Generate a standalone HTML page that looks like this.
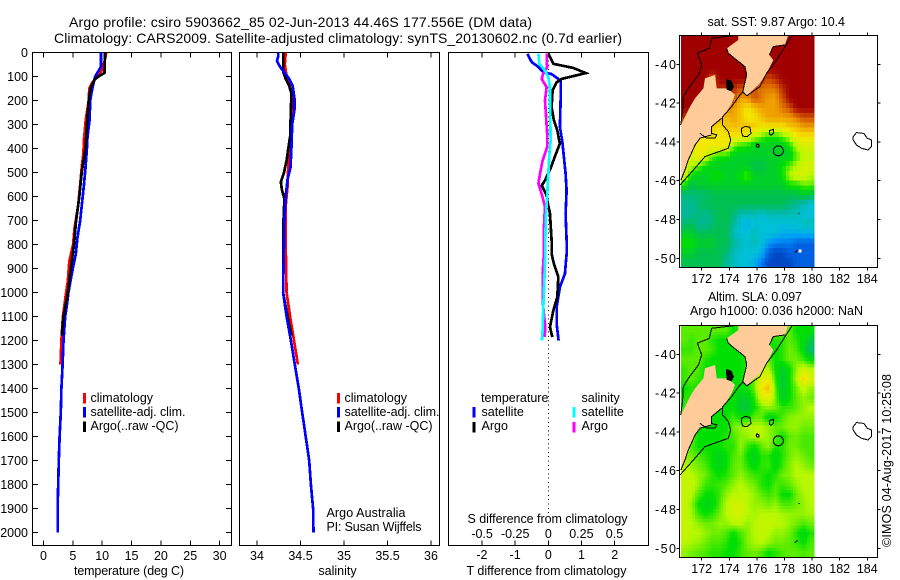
<!DOCTYPE html>
<html>
<head>
<meta charset="utf-8">
<title>Argo profile chart</title>
<style>
html,body{margin:0;padding:0;background:#fff;}
#chart{display:block;}
text{font-family:"Liberation Sans",sans-serif;font-size:12.5px;fill:#000;}
</style>
</head>
<body>
<svg id="chart" width="900" height="580" viewBox="0 0 900 580" xmlns="http://www.w3.org/2000/svg"></svg>
<script>
// ---------- Profile data ----------
const tempDepthTicks = [0,100,200,300,400,500,600,700,800,900,1000,1100,1200,1300,1400,1500,1600,1700,1800,1900,2000];
const tempTicks = [0,5,10,15,20,25,30];
const salTicks = [34,34.5,35,35.5,36];
const salTickLabels = ['34','34.5','35','35.5','36'];
const diffTTicks = [-2,-1,0,1,2];
const diffSTicks = [-0.5,-0.25,0,0.25,0.5];
const diffSTickLabels = ['-0.5','-0.25','0','0.25','0.5'];

const tempClimDepth = [0,60,85,110,130,150,200,280,360,420,480,550,640,730,800,870,950,1000,1100,1200,1300];
const tempClimValue = [10.7,10.2,9.7,8.8,8.2,7.8,7.7,7.2,6.9,6.8,6.5,6.25,5.9,5.3,5.05,4.4,4.15,3.85,3.3,3.05,2.9];
const tempSatDepth = [0,60,75,100,130,165,200,280,350,400,480,550,620,700,770,840,900,1000,1050,1100,1200,1300,1400,1500,1600,1700,1800,1900,2000];
const tempSatValue = [9.8,9.8,9.4,8.8,8.5,8.2,7.95,7.85,7.5,7.4,7.15,6.9,6.6,6.25,5.8,5.5,5,4.25,4,3.7,3.4,3.25,3.05,2.95,2.75,2.6,2.5,2.4,2.4];
const tempArgoDepth = [0,85,95,110,130,150,200,300,400,500,600,700,800,900,1000,1100,1180];
const tempArgoValue = [10.5,10.4,9.7,8.8,8.35,8,7.7,7.4,7.15,6.5,6.1,5.55,5.2,4.65,4.15,3.4,3.1];

const salClimDepth = [0,50,100,150,200,300,400,470,560,640,800,1000,1100,1200,1300];
const salClimValue = [34.33,34.32,34.34,34.385,34.415,34.4,34.385,34.36,34.35,34.33,34.33,34.34,34.38,34.425,34.47];
const salSatDepth = [0,15,35,60,85,110,140,190,240,300,400,480,530,600,700,800,900,1000,1100,1200,1300,1400,1500,1600,1700,1800,1900,2000];
const salSatValue = [34.245,34.245,34.23,34.265,34.32,34.37,34.41,34.43,34.43,34.405,34.395,34.385,34.35,34.33,34.315,34.31,34.305,34.3,34.34,34.39,34.435,34.48,34.52,34.56,34.6,34.62,34.645,34.65];
const salArgoDepth = [0,80,110,140,170,240,350,400,450,500,540,570,610,700,800,1000,1100,1180];
const salArgoValue = [34.3,34.3,34.33,34.37,34.395,34.39,34.38,34.36,34.34,34.31,34.275,34.285,34.315,34.305,34.3,34.3,34.35,34.395];

const diffTSatDepth = [5,40,60,82,90,117,200,310,367,436,505,575,672,783,839,922,978,1061,1130,1200];
const diffTSatValue = [-0.63,-0.5,-0.3,-0.15,0.1,0.37,0.37,0.35,0.42,0.47,0.52,0.55,0.52,0.55,0.55,0.5,0.35,0.25,0.25,0.31];
const diffTArgoDepth = [5,47,64,86,110,124,158,228,283,325,380,422,478,533,554,589,672,783,839,880,936,1019,1075,1144,1186];
const diffTArgoValue = [0,0.15,0.75,1.13,0.4,0.25,0.13,0.1,0.17,0.27,0.35,0.23,0.08,-0.1,-0.2,-0.07,0.05,0.1,0.1,0.17,0.3,0.27,0.15,0.05,0.12];
const diffSArgoDepth = [5,33,61,88,110,144,200,255,339,394,450,505,547,589,644,728,839,922,1033,1144,1186];
const diffSArgoValue = [-0.013,-0.013,-0.008,-0.038,-0.05,-0.013,-0.025,-0.018,-0.008,-0.008,-0.043,-0.063,-0.075,-0.05,-0.025,-0.033,-0.033,-0.043,-0.043,-0.023,-0.028];
const diffSSatDepth = [5,47,75,103,144,228,367,422,505,589,686,783,839,922,1061,1158,1200];
const diffSSatValue = [-0.075,-0.068,-0.025,0,0.013,0.013,0.018,0.008,0,-0.008,-0.018,-0.023,-0.023,-0.028,-0.038,-0.043,-0.048];

// ---------- Map data (index on the colour scale, 0 blue .. 11 dark red; 0.5 deg rows, north to south) ----------
const mapLonTicks = [172,174,176,178,180,182,184];
const mapLatTicks = [-40,-42,-44,-46,-48,-50];
const sstGrid = [
[11,11,11,11,11,11,11,11,11,11,11,11,11,11,11,11,11,11,11],
[11,11,11,11,11,11,11,11,11,11,11,11,11,11,11,11,11,11,11],
[11,11,11,11,11,11,11,11,11,11,11,11,11,11,11,11,11,11,11],
[11,11,11,11,11,11,11,11,11,11,11,11,11,11,11,11,11,11,11],
[11,11,11,11,10,11,11,11,11,11,11,10.5,10,10.5,11,11,11,11,11],
[11,11,11,11,11,10.5,10.5,10.5,10,10,10,9.5,9.5,9.5,10.5,11,11,11,11],
[11,11,11,11,11,11,11,10,9,9,10,9.5,9,9,10,11,11,11,11],
[11,11,11,11,11,11,9.5,9,8.5,8,8.5,9,9,9,9.5,10,11,11,11],
[10.5,10,9,9,9,9,8.5,9,8.5,8,8,8.5,9,9,9,9,9.5,10,10],
[9,9,9,8.5,8.5,8,8.5,8.5,8.5,8.5,8.5,8,8,8,8,8.5,8.5,9,9],
[8.5,8.5,8,8,8,8,8,8,8,7.5,7,6.5,6,6,6.5,7,8,8,8],
[8,7.5,8,8,8,8,8,6.5,6,6,5.5,5.5,5.5,5.5,5.5,6,7,7.5,7.5],
[8,7.5,8,7.5,6.5,6,6,5.5,5.5,5.5,5.5,5.5,5.5,5.5,5.5,5.5,6.5,7,7],
[7.5,7,6.5,6,5.5,5.5,5.5,5.5,5.5,5.5,5,5,5.5,5.5,6,6.5,7,7.5,7.5],
[7.5,6,5.5,5.5,6,6,5.5,5.5,6,6.5,5.5,5.5,5.5,5.5,6,7,7.5,7.5,7],
[6,5,5.5,5.5,5.5,5.5,5.5,5.5,5.5,5.5,5.5,5.5,5.5,5.5,5.5,6,6,6.5,6.5],
[4.5,4.5,4.5,4.5,5,5,5,5,5,5,5,5,5,5,5,5,5,5.5,5],
[4,4,4.5,5,5,5,5,5,5,5,5,5,5,5,5,4.5,4,3.5,3],
[4,4,4.5,4,4.5,5,5,4.5,3.5,3.5,3.5,3,3.5,3.5,3.5,3.5,3.5,3,3],
[4.5,5,4,4,4.5,5,5,4,3,2.5,3,3,3,3,3,3,3,3.5,3.5],
[5.5,5.5,5,5,5,5,5,3.5,3,3,3.5,3,3,3,2.5,2.5,2.5,2.5,2.5],
[6,6,5.5,5.5,5.5,5,5,4,3.5,3,3.5,3,2,1.5,1.5,1.5,1,1,1],
[5.5,5.5,5,5,5,5,4.5,3.5,3,3,3,2.5,1,0.5,0.5,1,1,1,1],
[5,5,5,5,5,5,4,3.5,3,3,2.5,1.5,0.5,0.5,0.5,0.5,1,1,1]
];
const slaGrid = [
[6.5,6.5,6.5,6.5,6.5,6.5,6.5,6,6.2,6.5,6.5,6.5,6.5,6.5,6.5,6.5,6,6,6],
[6.5,6.3,6.5,6.5,6.2,6,6,6,6,6,6,6,6,6.2,6.2,6.5,6.2,5.8,5.2],
[6.3,6.3,6.5,6.5,6.3,6,6,6,6,6,6.2,6.3,6.2,6,6.2,6.6,6.4,5.8,4.6],
[6.5,6.5,6.5,6.2,6,6,6,6,6,6.2,6.3,6.5,6.5,6,6.2,6.6,6.6,6.3,5.8],
[6.3,6.5,6.4,6,6,6,6,6,6,6.2,6.5,7,7,6,5.5,6,6.8,7.3,7],
[6.3,6.5,6.3,6,6,6,6,6,6,6.2,6.6,7.6,7.8,6.2,5.3,6,7,8.2,7.5],
[6,6.2,6,6,6,6,6,6,6,6,6.6,8,8.5,6.5,5.3,6,6.6,7.2,6.8],
[6.2,6.2,6,6,6,6,6,6,5.5,5.5,6.2,7.4,7.8,6.6,5.5,6,6.5,6.8,6.6],
[6.2,6.2,6,6,6,6,6,6,5.4,5.3,6,6.6,6.8,6.6,6.2,6.3,6.5,6.8,7],
[6.5,6.3,6,6,6,6,6,6.3,6,6,6.5,6.5,5.8,6,6.4,6.7,6.8,6.8,6.8],
[6.5,6.5,6,6,6,6,6,6.6,6.8,7,7,7,6.8,6.5,6.6,6.8,6.8,6.6,6.6],
[6.6,6.6,6,6,6,6,6.2,6.4,6.7,6.8,7,7,6.8,6.5,6,6.5,6.6,6.4,6.4],
[6.6,6.4,6,6,6,6,6.2,6.2,6.8,6.3,6,6.5,6.8,6.2,6.2,6.6,6.6,6.4,6.4],
[6.8,6.6,6.4,6.2,6,5.6,6,6.4,6.6,6,5.6,6.2,6.2,5.7,6.2,6.6,6.8,6.6,6.4],
[7,6.8,6.6,6.4,6,5.7,6,6.5,6.6,6.2,5.8,6.2,6.3,5.8,6.3,6.7,7,6.8,6.6],
[7.2,7,6.8,6.6,6.2,6,6.2,6.5,6.8,6.5,6.3,6.2,6,6.2,6.6,6.7,7,7,7],
[7.2,7.2,6.8,6.3,6.2,6.3,6.5,6.8,7,6.8,6.6,6.2,6,6.4,6.3,6.5,6.8,7,7],
[7.2,7,6.4,6,6,6.3,6.8,7,7,7,6.8,6.5,6.3,6.5,6,6,6.6,6.9,7],
[7.2,6.8,6,5.7,5.8,6.4,7,7.4,7.4,7,6.8,6.8,6.6,6.8,6.4,6.4,6.6,6.8,7],
[7.2,6.9,6.3,6,6.2,6.6,7,7.4,7.4,7,6.9,7,7,7,6.9,6.8,6.8,6.8,6.9],
[7.2,7,6.8,6.6,6.6,6.8,6.8,7,7,6.8,7,7.2,7.2,7,7,6.8,6.6,6.4,6.6],
[7.2,7,7,6.8,6.6,6.6,6.4,6,6.4,6.7,7,7.2,7,6.8,6.8,6.6,6.2,5.7,6.2],
[7,6.9,6.8,6.6,6.4,6.4,6.2,5.8,6.2,6.7,6.9,7,6.8,6.6,6.6,6.5,6.3,6,6.4],
[6.8,6.6,6.5,6.4,6.2,6.2,6,6,6.3,6.5,6.6,6.4,6,6.2,6.4,6.5,6.5,6.4,6.5]
];
const colourStops = ['#0030a8','#0060e0','#0098f8','#00c0d8','#00b898','#00c050','#00e000','#b8f800','#f4e800','#f0a000','#d05000','#a00000'];
const argoLon = 177.556;
const argoLat = -44.46;

// Coastlines as [lon, lat]
const northIslandLand = [[174.65,-38.5],[178.27,-38.5],[178.03,-39],[177.19,-39.09],[176.9,-39.52],[177.19,-39.78],[176.83,-40.29],[176.22,-40.98],[175.26,-41.63],[174.97,-41.41],[175.26,-40.55],[175.14,-40.12],[174.53,-39.78],[173.93,-39.43],[173.81,-39.18],[174.65,-38.75]];
const southIslandLand = [[170.5,-43.13],[171.16,-42.18],[171.52,-41.75],[172.12,-41.24],[172.24,-40.72],[172.97,-40.55],[173.09,-41.24],[173.93,-41.24],[174.41,-41.58],[174.17,-42.01],[173.57,-42.7],[172.72,-43.21],[172.72,-43.64],[171.88,-43.81],[171.52,-44.16],[171.03,-44.93],[170.79,-45.45],[170.5,-45.96]];
const coastLines = [
[[170.48,-43.13],[170.62,-42.35],[170.67,-41.67],[171.03,-41.24],[171.76,-40.55],[172,-40.03],[171.69,-39.43],[172.55,-39.18],[172.72,-38.66],[174.65,-38.5]],
[[178.59,-38.5],[177.96,-39.18],[177.43,-39.78],[176.7,-40.46],[176.22,-41.15],[175.26,-41.63]],
[[173.81,-39.18],[173.93,-39.43],[174.53,-39.78],[175.14,-40.12],[175.26,-40.55],[174.97,-41.41],[175.26,-41.63]],
[[176.9,-39.52],[177.19,-39.09],[178.03,-39]],
[[170.43,-46.22],[171.4,-45.45],[172.24,-44.76],[173.93,-44.33],[174.1,-43.9],[173.93,-43.47],[173.52,-43.13],[173.52,-42.7],[174.17,-42.18],[174.77,-41.58],[175.02,-41.41]],
[[171.88,-43.56],[172.36,-43.81],[172.97,-43.81],[173.09,-43.64],[172.72,-43.56],[172.72,-43.21],[173.45,-42.78]],
[[172.72,-43.64],[171.88,-43.81],[171.52,-44.16],[171.03,-44.93],[170.79,-45.45],[170.5,-45.96]],
[[179.02,-47.68],[179.1,-47.7]],
[[178.75,-49.7],[178.95,-49.6]]
];
const islands = [
[[182.98,-43.73],[183.22,-43.52],[183.75,-43.56],[183.99,-43.81],[184.3,-43.9],[184.3,-44.24],[184.06,-44.42],[183.58,-44.33],[183.22,-44.16],[182.98,-43.9]],
[[174.9,-43.3],[175.14,-43.2],[175.5,-43.25],[175.57,-43.56],[175.3,-43.73],[174.97,-43.7],[174.87,-43.47]],
[[176.92,-43.42],[177.21,-43.35],[177.19,-43.56],[177.02,-43.66],[176.9,-43.59]],
[[176,-44.1],[176.15,-44.15],[176.15,-44.25],[176,-44.27],[175.95,-44.18]]
];
const harbourBlob = [[173.75,-40.75],[174.15,-40.85],[174.35,-41.15],[174.15,-41.4],[173.8,-41.3]];
const missingPixel = [179,-49.55];

// ---------- Helpers ----------
const svg = document.getElementById('chart');
const NS = 'http://www.w3.org/2000/svg';
function mk(tag, attrs, name, parent) {
  const el = document.createElementNS(NS, tag);
  for (const k in attrs) el.setAttribute(k, attrs[k]);
  
  
  (parent || svg).appendChild(el);
  return el;
}
function txt(x, y, s, name, anchor, len) {
  const a = {x: x, y: y};
  if (anchor) a['text-anchor'] = anchor;
  if (len) { a.textLength = len; a.lengthAdjust = 'spacing'; }
  const t = mk('text', a, name);
  t.textContent = s;
  return t;
}
function tick(x1, y1, x2, y2, name) {
  mk('line', {x1: x1, y1: y1, x2: x2, y2: y2, stroke: '#000', 'stroke-width': 1, 'shape-rendering': 'crispEdges'}, name);
}
function frame(x, y, w, h, name) {
  mk('rect', {x: x, y: y, width: w, height: h, fill: 'none', stroke: '#000', 'stroke-width': 1, 'shape-rendering': 'crispEdges'}, name);
}

// Axis functions
const PLOT_TOP = 52.5, PLOT_BOTTOM = 545.5;
const yDepth = d => 52.5 + 0.24 * d;
const xTemp = t => 43.5 + 5.87 * t;
const xSal = s => 257 + 87 * (s - 34);
const xDiffT = t => 548.3 + 33.2 * t;
const xDiffS = s => 548.3 + 132.4 * s;
const xLon = lon => 701.7 + 13.8 * (lon - 172);

function profile(depths, values, xFn, colour, name) {
  const pts = depths.map((d, i) => xFn(values[i]).toFixed(1) + ',' + yDepth(d).toFixed(1)).join(' ');
  mk('polyline', {points: pts, fill: 'none', stroke: colour, 'stroke-width': 2.7, 'shape-rendering': 'crispEdges'}, name);
}
function legendBar(x, y, colour, name) {
  mk('rect', {x: x, y: y, width: 3, height: 10.5, fill: colour, 'shape-rendering': 'crispEdges'}, name);
}

// ---------- Titles ----------
txt(69, 27, 'Argo profile: csiro 5903662_85 02-Jun-2013 44.46S 177.556E (DM data)', 'figure-title-line-1', null, 463).style.fontSize = '14px';
txt(54, 43, 'Climatology: CARS2009. Satellite-adjusted climatology: synTS_20130602.nc (0.7d earlier)', 'figure-title-line-2', null, 568).style.fontSize = '14px';

// ---------- Panel 1: temperature ----------
frame(32.5, PLOT_TOP, 199, 493, 'temperature-panel-frame');
tempDepthTicks.forEach(d => {
  tick(33, yDepth(d), 38, yDepth(d), 'depth-tick-left');
  tick(226, yDepth(d), 231, yDepth(d), 'depth-tick-right');
  txt(28, yDepth(d) + 4.5, String(d), 'depth-tick-label', 'end');
});
tempTicks.forEach(t => {
  tick(xTemp(t), PLOT_TOP, xTemp(t), PLOT_TOP + 5, 'temperature-tick-top');
  tick(xTemp(t), PLOT_BOTTOM, xTemp(t), PLOT_BOTTOM - 5, 'temperature-tick-bottom');
  txt(xTemp(t), 560, String(t), 'temperature-tick-label', 'middle');
});
txt(74, 575, 'temperature (deg C)', 'temperature-axis-title', null, 110);
profile(tempClimDepth, tempClimValue, xTemp, '#ff0000', 'temperature-climatology-line');
profile(tempSatDepth, tempSatValue, xTemp, '#0000ff', 'temperature-satellite-line');
profile(tempArgoDepth, tempArgoValue, xTemp, '#000000', 'temperature-argo-line');
legendBar(83, 393, '#ff0000', 'legend-climatology-swatch');
legendBar(83, 407, '#0000ff', 'legend-satellite-swatch');
legendBar(83, 421.5, '#000000', 'legend-argo-swatch');
txt(90.5, 402, 'climatology', 'legend-climatology-label');
txt(90.5, 416, 'satellite-adj. clim.', 'legend-satellite-label', null, 95);
txt(90.5, 430, 'Argo(..raw -QC)', 'legend-argo-label', null, 88);

// ---------- Panel 2: salinity ----------
frame(239.5, PLOT_TOP, 200, 493, 'salinity-panel-frame');
salTicks.forEach((s, i) => {
  tick(xSal(s), PLOT_TOP, xSal(s), PLOT_TOP + 5, 'salinity-tick-top');
  tick(xSal(s), PLOT_BOTTOM, xSal(s), PLOT_BOTTOM - 5, 'salinity-tick-bottom');
  txt(xSal(s), 560, salTickLabels[i], 'salinity-tick-label', 'middle');
});
txt(337.5, 575, 'salinity', 'salinity-axis-title', 'middle');
profile(salClimDepth, salClimValue, xSal, '#ff0000', 'salinity-climatology-line');
profile(salArgoDepth, salArgoValue, xSal, '#000000', 'salinity-argo-line');
profile(salSatDepth, salSatValue, xSal, '#0000ff', 'salinity-satellite-line');
legendBar(337, 393, '#ff0000', 'legend-climatology-swatch');
legendBar(337, 407, '#0000ff', 'legend-satellite-swatch');
legendBar(337, 421.5, '#000000', 'legend-argo-swatch');
txt(344.5, 402, 'climatology', 'legend-climatology-label');
txt(344.5, 416, 'satellite-adj. clim.', 'legend-satellite-label', null, 95);
txt(344.5, 430, 'Argo(..raw -QC)', 'legend-argo-label', null, 88);
txt(326.5, 517, 'Argo Australia', 'credit-argo-australia', null, 79);
txt(326.5, 531, 'PI: Susan Wijffels', 'credit-principal-investigator', null, 95);

// ---------- Panel 3: differences ----------
frame(448.5, PLOT_TOP, 200, 493, 'difference-panel-frame');
diffTTicks.forEach(t => {
  tick(xDiffT(t), PLOT_TOP, xDiffT(t), PLOT_TOP + 5, 'difference-tick-top');
  tick(xDiffT(t), PLOT_BOTTOM, xDiffT(t), PLOT_BOTTOM - 5, 'difference-tick-bottom');
  txt(xDiffT(t), 559, String(t), 'temperature-difference-tick-label', 'middle');
});
diffSTicks.forEach((s, i) => {
  txt(xDiffS(s), 538, diffSTickLabels[i], 'salinity-difference-tick-label', 'middle');
});
mk('line', {x1: xDiffT(0), y1: 52, x2: xDiffT(0), y2: 513, stroke: '#000', 'stroke-width': 1, 'stroke-dasharray': '1 3.3', 'shape-rendering': 'crispEdges'}, 'zero-difference-line');
profile(diffTSatDepth, diffTSatValue, xDiffT, '#0000ff', 'temperature-satellite-difference-line');
profile(diffTArgoDepth, diffTArgoValue, xDiffT, '#000000', 'temperature-argo-difference-line');
profile(diffSArgoDepth, diffSArgoValue, xDiffS, '#ff00ff', 'salinity-argo-difference-line');
profile(diffSSatDepth, diffSSatValue, xDiffS, '#00ffff', 'salinity-satellite-difference-line');
txt(481, 402, 'temperature', 'legend-temperature-heading');
txt(581.5, 402, 'salinity', 'legend-salinity-heading');
txt(481.5, 416, 'satellite', 'legend-temperature-satellite-label');
txt(481.5, 430, 'Argo', 'legend-temperature-argo-label');
txt(581.5, 416, 'satellite', 'legend-salinity-satellite-label');
txt(581.5, 430, 'Argo', 'legend-salinity-argo-label');
legendBar(472.5, 407, '#0000ff', 'legend-temperature-satellite-swatch');
legendBar(472.5, 422, '#000000', 'legend-temperature-argo-swatch');
legendBar(572.5, 407, '#00ffff', 'legend-salinity-satellite-swatch');
legendBar(572.5, 422, '#ff00ff', 'legend-salinity-argo-swatch');
txt(467.5, 523, 'S difference from climatology', 'salinity-difference-axis-title', null, 160);
txt(466.5, 575, 'T difference from climatology', 'temperature-difference-axis-title', null, 160);

// ---------- Maps ----------
function colourFor(v) {
  const c = Math.max(0, Math.min(11, v));
  const i = Math.min(10, Math.floor(c));
  const f = c - i;
  const a = parseInt(colourStops[i].slice(1), 16);
  const b = parseInt(colourStops[i + 1].slice(1), 16);
  const ch = s => Math.round(((a >> s) & 255) * (1 - f) + ((b >> s) & 255) * f);
  return 'rgb(' + ch(16) + ',' + ch(8) + ',' + ch(0) + ')';
}
function drawMap(grid, top, lat40y, bottom, prefix, sub) {
  const yLat = lat => lat40y + 19.4 * (-40 - lat);
  const path = pts => pts.map(p => xLon(p[0]).toFixed(1) + ',' + yLat(p[1]).toFixed(1)).join(' ');
  const g = mk('g', {'shape-rendering': 'crispEdges'}, prefix + '-heatmap');
  const rows = grid.length, cols = grid[0].length;
  const cellW = 7, cellH = (bottom - top) / rows;
  for (let j = 0; j < rows * sub; j++) {
    for (let i = 0; i < cols * sub; i++) {
      const u = (i + 0.5) / sub - 0.5, w = (j + 0.5) / sub - 0.5;
      const i0 = Math.max(0, Math.floor(u)), j0 = Math.max(0, Math.floor(w));
      const i1 = Math.min(cols - 1, i0 + 1), j1 = Math.min(rows - 1, j0 + 1);
      const fu = Math.max(0, u - i0), fw = Math.max(0, w - j0);
      const v = (grid[j0][i0] * (1 - fu) + grid[j0][i1] * fu) * (1 - fw) + (grid[j1][i0] * (1 - fu) + grid[j1][i1] * fu) * fw;
      const cell = document.createElementNS(NS, 'rect');
      cell.setAttribute('x', (681 + i * cellW / sub).toFixed(2));
      cell.setAttribute('y', (top + j * cellH / sub).toFixed(2));
      cell.setAttribute('width', (cellW / sub + 0.4).toFixed(2));
      cell.setAttribute('height', (cellH / sub + 0.4).toFixed(2));
      cell.setAttribute('fill', colourFor(v));
      
      
      g.appendChild(cell);
    }
  }
  mk('polygon', {points: path(northIslandLand), fill: '#ffcc99'}, prefix + '-north-island-land');
  mk('polygon', {points: path(southIslandLand), fill: '#ffcc99'}, prefix + '-south-island-land');
  coastLines.forEach(line => {
    mk('polyline', {points: path(line), fill: 'none', stroke: '#000', 'stroke-width': 1, 'shape-rendering': 'crispEdges'}, prefix + '-coastline');
  });
  islands.forEach(isl => {
    mk('polygon', {points: path(isl), fill: 'none', stroke: '#000', 'stroke-width': 1, 'shape-rendering': 'crispEdges'}, prefix + '-island-outline');
  });
  mk('polygon', {points: path(harbourBlob), fill: '#000', 'shape-rendering': 'crispEdges'}, prefix + '-harbour-detail');
  mk('circle', {cx: xLon(argoLon), cy: yLat(argoLat), r: 5, fill: 'none', stroke: '#000', 'stroke-width': 1, 'shape-rendering': 'crispEdges'}, prefix + '-argo-position');
  frame(679.5, top, 198, bottom - top, prefix + '-map-frame');
  mapLonTicks.forEach(lon => {
    tick(xLon(lon), top, xLon(lon), top - 3, prefix + '-longitude-tick-top');
    tick(xLon(lon), bottom, xLon(lon), bottom + 3, prefix + '-longitude-tick-bottom');
    txt(xLon(lon), bottom + 15.5, String(lon), prefix + '-longitude-label', 'middle');
  });
  mapLatTicks.forEach(lat => {
    tick(679.5, yLat(lat), 676.5, yLat(lat), prefix + '-latitude-tick-left');
    tick(877.5, yLat(lat), 880.5, yLat(lat), prefix + '-latitude-tick-right');
    txt(655, yLat(lat) + 4.5, String(lat), prefix + '-latitude-label', null, 21);
  });
  return yLat;
}
const yLatTop = drawMap(sstGrid, 35.5, 64.3, 267.5, 'sst', 2);
mk('rect', {x: xLon(missingPixel[0]), y: yLatTop(missingPixel[1]), width: 3, height: 3, fill: '#fff', 'shape-rendering': 'crispEdges'}, 'sst-missing-data-pixel');
drawMap(slaGrid, 325.5, 354.3, 557.5, 'sla', 3);

txt(707.5, 26, 'sat. SST: 9.87 Argo: 10.4', 'sst-map-title', null, 137.5);
txt(708, 301, 'Altim. SLA: 0.097', 'sla-map-title-line-1', null, 94);
txt(690, 315, 'Argo h1000: 0.036 h2000: NaN', 'sla-map-title-line-2', null, 173);
const stamp = txt(0, 0, '\u00A9IMOS 04-Aug-2017 10:25:08', 'imos-timestamp', null, 173);
stamp.setAttribute('transform', 'translate(891,547) rotate(-90)');
</script>
</body>
</html>
